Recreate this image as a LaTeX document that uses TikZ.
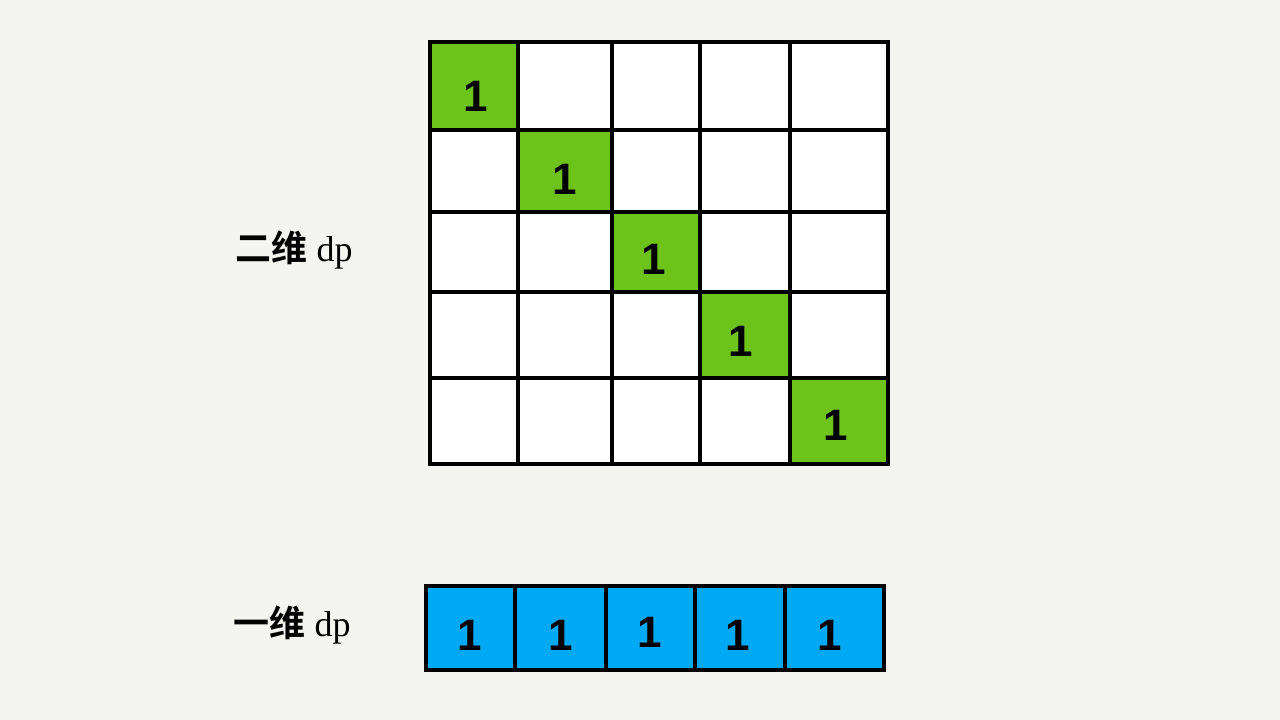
\documentclass[tikz,border=0pt]{standalone}
\usepackage{fontspec}
\setmainfont{Liberation Serif}
\newfontfamily\cjk{Noto Sans CJK SC}[BoldFont={Noto Sans CJK SC Bold}]
\newfontfamily\digitfont{Liberation Sans}
\definecolor{bg}{HTML}{F4F4F1}
\definecolor{gcell}{HTML}{6EC31A}
\definecolor{bcell}{HTML}{00A9F4}
\newcommand{\mycell}[6]{%
  \pgfmathsetmacro{\cw}{#4-#2}\pgfmathsetmacro{\ch}{#5-#3}%
  \node[cellbox,fill=#6,minimum width=\cw pt,minimum height=\ch pt] (#1) at ({(#2+#4)/2},{(#3+#5)/2}) {};}
\begin{document}
\begin{tikzpicture}[x=1pt,y=-1pt,
  cellbox/.style={draw=black,line width=3.2pt,inner sep=0pt,outer sep=0pt,rectangle},
  one/.style={font=\digitfont\bfseries\fontsize{44}{44}\selectfont,inner sep=0pt},
  lab/.style={font=\fontsize{36}{36}\selectfont,inner sep=0pt}]
\fill[bg] (0,0) rectangle (1280,720);
\useasboundingbox (0,0) rectangle (1280,720);
% 2D grid
\def\xs{{430,518,612,700,790,888}}
\def\ys{{42,130,212,292,378,464}}
\foreach \r in {0,...,4}{
  \foreach \c in {0,...,4}{
    \pgfmathsetmacro{\xa}{\xs[\c]}\pgfmathsetmacro{\xb}{\xs[\c+1]}
    \pgfmathsetmacro{\ya}{\ys[\r]}\pgfmathsetmacro{\yb}{\ys[\r+1]}
    \ifnum\r=\c
      \mycell{g\r\c}{\xa}{\ya}{\xb}{\yb}{gcell}
    \else
      \mycell{g\r\c}{\xa}{\ya}{\xb}{\yb}{white}
    \fi
  }
}
\node[one] (n0) at (476,96) {1};
\node[one] (n1) at (565,179) {1};
\node[one] (n2) at (654,259) {1};
\node[one] (n3) at (741,341) {1};
\node[one] (n4) at (836,425) {1};
% 1D row
\def\bx{{426,515,606,695,785,884}}
\foreach \c in {0,...,4}{
  \pgfmathsetmacro{\xa}{\bx[\c]}\pgfmathsetmacro{\xb}{\bx[\c+1]}
  \mycell{b\c}{\xa}{586}{\xb}{670}{bcell}
}
\node[one] (m0) at (470,635) {1};
\node[one] (m1) at (561,635) {1};
\node[one] (m2) at (650,632) {1};
\node[one] (m3) at (738,635) {1};
\node[one] (m4) at (830,635) {1};
% labels
\node[lab] (l2) at (294,250) {{\cjk\bfseries 二维} dp};
\node[lab] (l1) at (292,625) {{\cjk\bfseries 一维} dp};
\end{tikzpicture}
\end{document}
